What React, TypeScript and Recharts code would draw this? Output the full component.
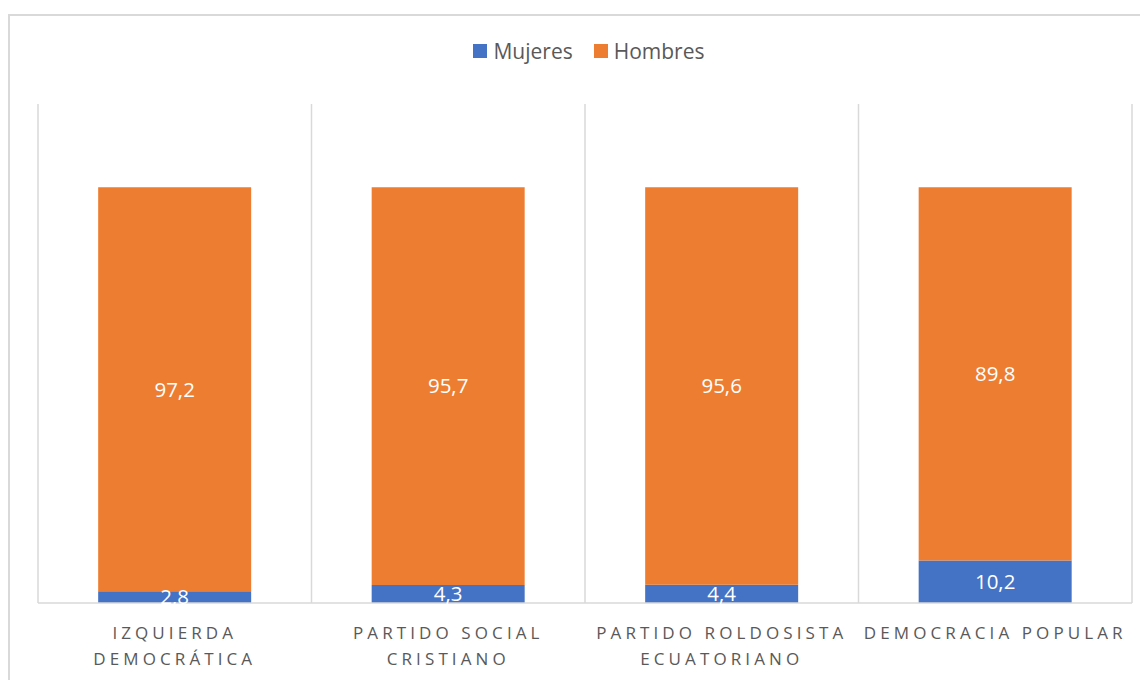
import React from 'react';
import { BarChart, Bar, XAxis, YAxis, CartesianGrid, Legend, LabelList } from 'recharts';

const categories = ['IZQUIERDA DEMOCRÁTICA', 'PARTIDO SOCIAL CRISTIANO', 'PARTIDO ROLDOSISTA ECUATORIANO', 'DEMOCRACIA POPULAR'];
const categoryLines = [
  ['IZQUIERDA', 'DEMOCRÁTICA'],
  ['PARTIDO SOCIAL', 'CRISTIANO'],
  ['PARTIDO ROLDOSISTA', 'ECUATORIANO'],
  ['DEMOCRACIA POPULAR'],
];
const mujeres = [2.8, 4.3, 4.4, 10.2];
const hombres = [97.2, 95.7, 95.6, 89.8];
const seriesNames = ['Mujeres', 'Hombres'];
const seriesColors = ['#4472C4', '#ED7D31'];

const data = categories.map((c, i) => ({ name: c, idx: i, Mujeres: mujeres[i], Hombres: hombres[i] }));

const FONT = '"Open Sans", sans-serif';

const fmt = (v: any) => String(v).replace('.', ',');

const Tick = (props: any) => {
  const { x, y, payload } = props;
  const idx = categories.indexOf(payload.value);
  const lines = categoryLines[idx] || [payload.value];
  return (
    <g transform={`translate(${x},${y})`}>
      <text textAnchor="middle" fill="#595959" fontSize={17} fontFamily={FONT} style={{ letterSpacing: '4.1px' }}>
        {lines.map((l, i) => (
          <tspan key={i} x={0} dy={i === 0 ? 28 : 26}>{l}</tspan>
        ))}
      </text>
    </g>
  );
};

const LegendContent = () => (
  <div style={{ display: 'flex', justifyContent: 'center', alignItems: 'center', fontFamily: FONT, fontSize: 21, color: '#595959', height: 0, paddingLeft: 20 }}>
    {seriesNames.map((n, i) => (
      <div key={n} style={{ display: 'flex', alignItems: 'center', marginRight: i === 0 ? 21 : 0 }}>
        <span style={{ display: 'inline-block', width: 14, height: 14, background: seriesColors[i], marginRight: 6 }} />
        <span>{n}</span>
      </div>
    ))}
  </div>
);

export default function App() {
  return (
    <div style={{ marginTop: 6, width: 1140, height: 666, borderTop: '2px solid #d9d9d9', borderLeft: '2px solid #d9d9d9', background: '#fff' }}>
      <BarChart
        width={1138}
        height={664}
        data={data}
        margin={{ top: 88, right: 16, bottom: 7, left: 28 }}
        barCategoryGap="22%"
      >
        <CartesianGrid
          horizontal={false}
          stroke="#d9d9d9"
          strokeWidth={1.5}
          verticalCoordinatesGenerator={({ offset }: any) => {
            const n = categories.length;
            return Array.from({ length: n + 1 }, (_, i) => offset.left + (offset.width * i) / n);
          }}
        />
        <XAxis dataKey="name" tick={<Tick />} tickLine={false} axisLine={{ stroke: '#d9d9d9', strokeWidth: 1.5 }} height={70} interval={0} />
        <YAxis hide domain={[0, 120]} />
        <Legend verticalAlign="top" content={<LegendContent />} wrapperStyle={{ top: 35, left: 0, width: 1138, height: 0 }} />
        <Bar dataKey="Mujeres" stackId="a" fill={seriesColors[0]} isAnimationActive={false}>
          <LabelList dataKey="Mujeres" position="center" fill="#fff" fontSize={20.5} fontFamily={FONT} formatter={fmt} />
        </Bar>
        <Bar dataKey="Hombres" stackId="a" fill={seriesColors[1]} isAnimationActive={false}>
          <LabelList dataKey="Hombres" position="center" fill="#fff" fontSize={20.5} fontFamily={FONT} formatter={fmt} />
        </Bar>
      </BarChart>
    </div>
  );
}
